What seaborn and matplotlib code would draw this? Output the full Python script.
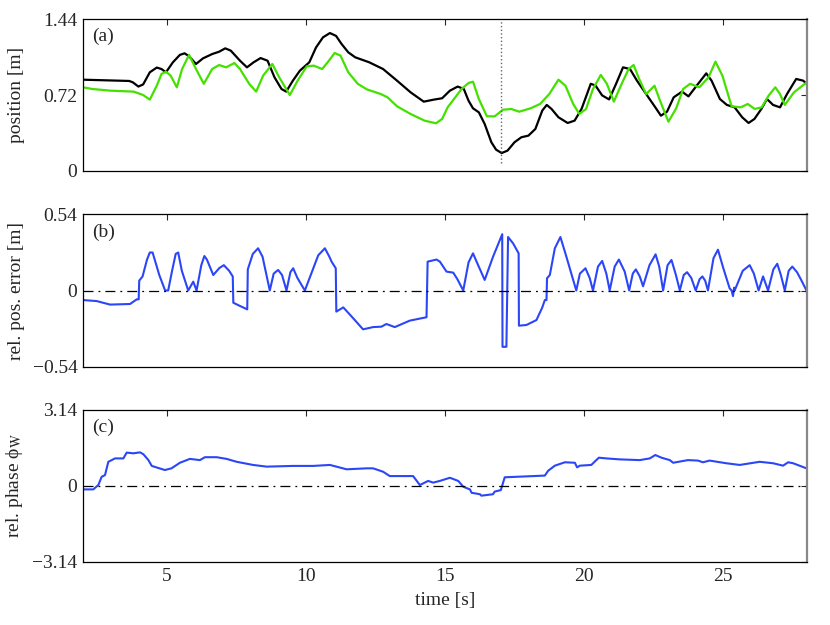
import numpy as np
import pandas as pd
import matplotlib
matplotlib.use('Agg')
import matplotlib.pyplot as plt
import seaborn as sns

# values
# (a) position [m]
t_pos_black = [2.0, 3.66, 3.79, 3.99, 4.16, 4.40, 4.65, 4.82, 4.98, 5.23, 5.48, 5.65, 5.81, 6.06,
               6.31, 6.64, 6.89, 7.11, 7.31, 7.64, 7.89, 8.13, 8.38, 8.63, 8.88, 9.13, 9.30, 9.54,
               9.79, 10.13, 10.37, 10.62, 10.87, 11.09, 11.29, 11.53, 11.78, 12.28, 12.78, 13.28,
               13.77, 14.24, 14.60, 14.90, 15.18, 15.46, 15.68, 15.85, 16.01, 16.22, 16.43, 16.67,
               16.84, 17.04, 17.25, 17.50, 17.75, 18.00, 18.25, 18.50, 18.66, 18.83, 19.08, 19.41,
               19.66, 19.91, 20.24, 20.41, 20.65, 20.90, 21.15, 21.40, 21.65, 21.90, 22.23, 22.56,
               22.76, 22.98, 23.22, 23.52, 23.75, 24.05, 24.39, 24.58, 24.88, 25.13, 25.41, 25.68,
               25.91, 26.12, 26.37, 26.57, 26.79, 27.04, 27.29, 27.62, 27.87, 28.0]
pos_black = [0.865, 0.853, 0.84, 0.80, 0.82, 0.935, 0.98, 0.966, 0.935, 1.03, 1.10, 1.115, 1.087, 1.014,
             1.067, 1.108, 1.13, 1.162, 1.14, 1.045, 0.982, 1.03, 1.07, 1.045, 0.887, 0.777, 0.752, 0.856,
             0.95, 1.03, 1.17, 1.266, 1.307, 1.28, 1.203, 1.124, 1.077, 1.03, 0.966, 0.856,
             0.745, 0.657, 0.676, 0.689, 0.761, 0.80, 0.777, 0.666, 0.594, 0.556, 0.445, 0.272,
             0.202, 0.17, 0.193, 0.272, 0.32, 0.335, 0.398, 0.573, 0.626, 0.588, 0.509, 0.455,
             0.477, 0.588, 0.826, 0.81, 0.716, 0.678, 0.826, 0.982, 0.966, 0.856, 0.729, 0.603,
             0.524, 0.562, 0.698, 0.752, 0.707, 0.81, 0.925, 0.856, 0.682, 0.626, 0.603, 0.509,
             0.455, 0.493, 0.588, 0.682, 0.626, 0.603, 0.729, 0.872, 0.856, 0.826]

t_pos_green = [2.0, 2.33, 2.99, 3.82, 4.16, 4.40, 4.65, 4.82, 4.98, 5.15, 5.37, 5.56, 5.81, 6.06,
               6.34, 6.64, 6.89, 7.14, 7.44, 7.64, 7.97, 8.22, 8.47, 8.80, 9.05, 9.43, 9.71, 10.04,
               10.29, 10.59, 10.79, 11.04, 11.25, 11.53, 11.87, 12.20, 12.70, 12.94, 13.28, 13.77,
               14.27, 14.68, 14.90, 15.10, 15.60, 15.85, 16.01, 16.22, 16.51, 16.79, 17.09, 17.39,
               17.67, 18.08, 18.42, 18.75, 19.08, 19.33, 19.61, 19.83, 20.07, 20.32, 20.60, 20.82,
               21.07, 21.32, 21.60, 21.78, 21.98, 22.23, 22.53, 22.73, 23.03, 23.31, 23.56, 23.81,
               24.14, 24.47, 24.72, 24.97, 25.30, 25.63, 25.88, 26.13, 26.38, 26.63, 26.87, 27.04,
               27.21, 27.54, 28.0]
pos_green = [0.793, 0.777, 0.761, 0.752, 0.72, 0.676, 0.808, 0.919, 0.941, 0.903, 0.793, 0.966, 1.10, 0.966,
             0.826, 0.966, 1.004, 0.982, 1.023, 0.966, 0.826, 0.752, 0.903, 1.014, 0.887, 0.72, 0.856, 0.992,
             0.998, 0.966, 1.03, 1.118, 1.093, 0.935, 0.826, 0.773, 0.729, 0.698, 0.613, 0.54,
             0.477, 0.452, 0.493, 0.603, 0.777, 0.834, 0.846, 0.682, 0.518, 0.518, 0.581, 0.587,
             0.562, 0.594, 0.635, 0.729, 0.865, 0.808, 0.635, 0.54, 0.587, 0.777, 0.91, 0.826,
             0.657, 0.808, 0.966, 1.004, 0.872, 0.729, 0.808, 0.666, 0.467, 0.594, 0.777, 0.826,
             0.793, 0.887, 1.036, 0.903, 0.613, 0.603, 0.635, 0.588, 0.603, 0.714, 0.793, 0.729,
             0.626, 0.745, 0.84]

# (b) relative position error [m]
t_err = [2.0, 2.49, 2.97, 3.69, 3.93, 4.00, 4.02, 4.14, 4.30, 4.40, 4.50, 4.62, 4.74, 4.95,
         5.06, 5.20, 5.33, 5.42, 5.55, 5.78, 5.96, 6.08, 6.25, 6.36, 6.45, 6.68, 6.90, 7.06,
         7.25, 7.38, 7.40, 7.64, 7.90, 7.92, 8.10, 8.29, 8.45, 8.71, 8.85, 9.01, 9.15, 9.31,
         9.45, 9.55, 9.70, 9.97, 10.20, 10.45, 10.69, 10.85, 10.93, 11.08, 11.10, 11.35, 11.71,
         12.06, 12.42, 12.72, 12.90, 13.20, 13.74, 14.34, 14.38, 14.70, 14.82, 15.06, 15.30,
         15.45, 15.66, 15.85, 16.01, 16.15, 16.43, 16.73, 17.06, 17.07, 17.21, 17.27, 17.45,
         17.65, 17.66, 17.93, 18.29, 18.50, 18.59, 18.65, 18.67, 18.77, 18.95, 19.15, 19.35,
         19.72, 19.85, 20.05, 20.20, 20.32, 20.50, 20.65, 20.80, 20.92, 21.10, 21.25, 21.46,
         21.62, 21.75, 21.86, 22.00, 22.12, 22.35, 22.57, 22.70, 22.84, 23.00, 23.14, 23.30,
         23.44, 23.58, 23.70, 23.85, 24.01, 24.15, 24.25, 24.35, 24.45, 24.65, 24.81, 25.00,
         25.23, 25.30, 25.35, 25.39, 25.41, 25.70, 25.95, 26.10, 26.27, 26.43, 26.61, 26.80,
         26.94, 27.07, 27.21, 27.35, 27.48, 27.65, 27.80, 27.99]
err = [-0.068, -0.075, -0.10, -0.096, -0.063, -0.063, 0.07, 0.10, 0.22, 0.27, 0.27, 0.19, 0.11, 0.0,
       0.0, 0.14, 0.26, 0.27, 0.14, 0.0, 0.063, 0.0, 0.18, 0.245, 0.22, 0.11, 0.16, 0.18,
       0.14, 0.10, -0.087, -0.11, -0.134, 0.15, 0.26, 0.30, 0.24, 0.0, 0.12, 0.146, 0.11, 0.0,
       0.13, 0.158, 0.09, 0.0, 0.12, 0.25, 0.30, 0.24, 0.205, 0.158, -0.15, -0.12, -0.198,
       -0.276, -0.26, -0.257, -0.238, -0.26, -0.214, -0.19, 0.205, 0.22, 0.205, 0.134, 0.127,
       0.08, 0.0, 0.20, 0.264, 0.20, 0.075, 0.24, 0.40, -0.40, -0.40, 0.38, 0.335,
       0.264, -0.25, -0.245, -0.21, -0.12, -0.068, -0.068, 0.087, 0.11, 0.30, 0.38, 0.25,
       0.0, 0.12, 0.158, 0.09, 0.0, 0.17, 0.21, 0.12, 0.0, 0.17, 0.22, 0.134,
       0.0, 0.12, 0.15, 0.10, 0.03, 0.18, 0.257, 0.17, 0.0, 0.18, 0.217, 0.11,
       0.0, 0.11, 0.13, 0.09, 0.0, 0.08, 0.10, 0.07, 0.0, 0.23, 0.29, 0.16,
       0.015, 0.0, -0.04, 0.02, 0.0, 0.14, 0.18, 0.12, 0.0, 0.10, 0.0, 0.15,
       0.19, 0.11, 0.0, 0.14, 0.17, 0.13, 0.075, 0.0]

# (c) relative phase
t_phase = [2.0, 2.37, 2.55, 2.67, 2.79, 2.91, 3.15, 3.45, 3.57, 3.81, 4.05, 4.17, 4.35, 4.47,
           4.94, 5.18, 5.48, 5.84, 6.20, 6.38, 6.80, 7.16, 7.52, 8.11, 8.60, 9.55, 10.27, 10.87,
           11.47, 12.19, 12.42, 12.78, 13.02, 13.86, 14.10, 14.40, 14.58, 14.82, 15.18, 15.48,
           15.66, 15.90, 15.96, 16.26, 16.31, 16.73, 16.79, 17.01, 17.15, 18.59, 18.71, 18.95,
           19.31, 19.67, 19.75, 19.85, 20.26, 20.53, 20.80, 21.28, 22.00, 22.36, 22.56, 22.78,
           23.08, 23.20, 23.73, 24.09, 24.27, 24.51, 25.11, 25.59, 26.31, 26.79, 27.15, 27.33,
           27.51, 27.99]
phase = [-0.14, -0.14, 0.04, 0.38, 0.45, 1.00, 1.14, 1.14, 1.38, 1.35, 1.39, 1.31, 1.07, 0.83,
         0.66, 0.73, 0.96, 1.12, 1.07, 1.19, 1.19, 1.12, 1.00, 0.87, 0.80, 0.83, 0.83, 0.87,
         0.69, 0.73, 0.73, 0.59, 0.41, 0.41, 0.04, 0.21, 0.14, 0.21, 0.34, 0.21,
         -0.03, -0.14, -0.28, -0.34, -0.40, -0.34, -0.23, -0.17, 0.36, 0.43, 0.63, 0.84,
         0.98, 0.96, 0.77, 0.84, 0.87, 1.17, 1.14, 1.10, 1.07, 1.14, 1.28, 1.17,
         1.07, 0.96, 1.07, 1.05, 0.98, 1.05, 0.94, 0.87, 1.00, 0.94, 0.84, 0.98,
         0.94, 0.73]

x_ticks = [5, 10, 15, 20, 25]
event_time = 17.0

sns.set_style('white')
plt.rcParams['font.family'] = ['Liberation Serif', 'DejaVu Serif']
plt.rcParams['mathtext.fontset'] = 'stix'
plt.rcParams['font.size'] = 14

blue = '#2b46f7'
green = '#44e000'

fig = plt.figure(figsize=(8.3, 6.25), dpi=100)
ax_a = fig.add_axes([0.1, 0.7264, 0.872, 0.2432])
ax_b = fig.add_axes([0.1, 0.4136, 0.872, 0.2432])
ax_c = fig.add_axes([0.1, 0.1008, 0.872, 0.2432])

# panel (a)
sns.lineplot(x=t_pos_black, y=pos_black, ax=ax_a, color='black', linewidth=1.6,
             sort=False, estimator=None)
sns.lineplot(x=t_pos_green, y=pos_green, ax=ax_a, color=green, linewidth=1.6,
             sort=False, estimator=None)
ax_a.plot([event_time, event_time], [0.08, 1.44], color='#666666', linestyle=':', linewidth=1.0)
ax_a.set_ylim(0, 1.44)
ax_a.set_yticks([0, 0.72, 1.44])
ax_a.set_yticklabels(['0', '0.72', '1.44'])
ax_a.set_ylabel('position [m]')

# panel (b)
sns.lineplot(x=t_err, y=err, ax=ax_b, color=blue, linewidth=1.5, sort=False, estimator=None)
ax_b.set_ylim(-0.54, 0.54)
ax_b.set_yticks([-0.54, 0, 0.54])
ax_b.set_yticklabels(['\u22120.54', '0', '0.54'])
ax_b.set_ylabel('rel. pos. error [m]')

# panel (c)
sns.lineplot(x=t_phase, y=phase, ax=ax_c, color=blue, linewidth=1.5, sort=False, estimator=None)
ax_c.set_ylim(-3.14, 3.14)
ax_c.set_yticks([-3.14, 0, 3.14])
ax_c.set_yticklabels(['\u22123.14', '0', '3.14'])
ax_c.set_ylabel('rel. phase \u03d5$_{\\rm W}$')
ax_c.set_xlabel('time [s]', labelpad=5)

for ax, tag in zip([ax_a, ax_b, ax_c], ['(a)', '(b)', '(c)']):
    if ax is not ax_a:
        ax.axhline(0, color='black', linestyle='-.', linewidth=0.9, dashes=(8, 4, 1.5, 4))
    ax.set_xlim(2, 28)
    ax.set_xticks(x_ticks)
    ax.tick_params(direction='in', length=4.5, width=0.8, top=True, right=True,
                   labelsize=14, pad=4)
    ax.text(0.012, 0.94, tag, transform=ax.transAxes, fontsize=14, va='top', ha='left')
    for sp in ax.spines.values():
        sp.set_color('black')
        sp.set_linewidth(0.9)
    ax.spines['right'].set_color('#888888')
    ax.spines['right'].set_linewidth(1.6)
    ax.yaxis.set_label_coords(-0.08, 0.5)
    if ax is not ax_c:
        ax.set_xticklabels([])

fig.savefig('out.png', dpi=100)
